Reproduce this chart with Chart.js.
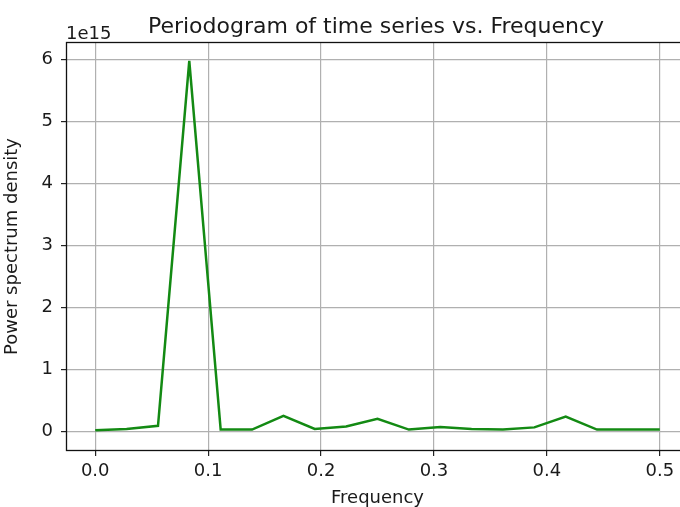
<!DOCTYPE html>
<html>
<head>
<meta charset="utf-8">
<script src="https://cdn.jsdelivr.net/npm/chart.js@4"></script>
<style>
  html, body { margin: 0; padding: 0; background: #fff; overflow: hidden; }
  #wrap { width: 700px; height: 507px; }
</style>
</head>
<body>
<div id="wrap"><canvas id="myChart" width="700" height="507"></canvas></div>
<script>
// periodogram of the series (36 monthly samples -> 19 frequencies)
const frequencias = [0, 0.0278, 0.0556, 0.0833, 0.1111, 0.1389, 0.1667, 0.1944, 0.2222, 0.25,
  0.2778, 0.3056, 0.3333, 0.3611, 0.3889, 0.4167, 0.4444, 0.4722, 0.5]
const densidade = [0.02e15, 0.04e15, 0.09e15, 5.98e15, 0.03e15, 0.03e15, 0.25e15, 0.04e15, 0.08e15, 0.205e15,
  0.03e15, 0.07e15, 0.04e15, 0.03e15, 0.065e15, 0.24e15, 0.03e15, 0.03e15, 0.03e15]

const ticks_x = [0, 0.1, 0.2, 0.3, 0.4, 0.5]
const labels_x = ['0.0', '0.1', '0.2', '0.3', '0.4', '0.5']
const ticks_y = [0, 1e15, 2e15, 3e15, 4e15, 5e15, 6e15]
const labels_y = ['0', '1', '2', '3', '4', '5', '6']

const fonte = 'DejaVu Sans'
const cor_texto = '#1a1a1a'

// caixa completa, titulo e o "1e15" do eixo y
const extras = {
  id: 'extras',
  afterDraw(chart) {
    const c = chart.ctx
    const a = chart.chartArea
    c.save()
    c.strokeStyle = '#111'
    c.lineWidth = 1.3
    c.strokeRect(a.left - 0.5, a.top - 0.5, a.right - a.left + 1, a.bottom - a.top + 1)
    c.fillStyle = cor_texto
    c.textBaseline = 'alphabetic'
    c.textAlign = 'center'
    c.font = '22px "' + fonte + '"'
    c.fillText('Periodogram of time series vs. Frequency', 376, 33)
    c.textAlign = 'left'
    c.font = '18px "' + fonte + '"'
    c.fillText('1e15', 66, 39)
    c.restore()
  }
}

const ctx = document.getElementById('myChart')

const data = {
  datasets: [{
    data: frequencias.map((f, i) => ({ x: f, y: densidade[i] })),
    borderColor: '#138a13',
    borderWidth: 2.5,
    pointRadius: 0,
    tension: 0,
    fill: false
  }]
}

const config = {
  type: 'line',
  data: data,
  options: {
    responsive: false,
    animation: false,
    layout: { padding: { top: 43, right: 12, left: 0, bottom: 0 } },
    plugins: {
      legend: { display: false },
      tooltip: { enabled: false }
    },
    scales: {
      x: {
        type: 'linear',
        min: -0.025,
        max: 0.525,
        afterBuildTicks: s => { s.ticks = ticks_x.map(v => ({ value: v })) },
        afterFit: s => { s.height = 57 },
        grid: { color: '#b0b0b0', lineWidth: 1.2, tickColor: '#222', tickLength: 6 },
        border: { display: false },
        ticks: {
          color: cor_texto,
          font: { family: fonte, size: 18 },
          padding: 5,
          maxRotation: 0,
          callback: (v, i) => labels_x[i]
        },
        title: {
          display: true,
          text: 'Frequency',
          color: cor_texto,
          font: { family: fonte, size: 18 },
          padding: { top: 0, bottom: -2 }
        }
      },
      y: {
        min: -0.3e15,
        max: 6.27e15,
        afterBuildTicks: s => { s.ticks = ticks_y.map(v => ({ value: v })) },
        afterFit: s => { s.width = 67 },
        grid: { color: '#b0b0b0', lineWidth: 1.2, tickColor: '#222', tickLength: 6 },
        border: { display: false },
        ticks: {
          color: cor_texto,
          font: { family: fonte, size: 18 },
          padding: 8,
          callback: (v, i) => labels_y[i]
        },
        title: {
          display: true,
          text: 'Power spectrum density',
          color: cor_texto,
          font: { family: fonte, size: 18 },
          padding: { top: 2, bottom: 0 }
        }
      }
    }
  },
  plugins: [extras]
}

const myChart = new Chart(ctx, config)
</script>
</body>
</html>
